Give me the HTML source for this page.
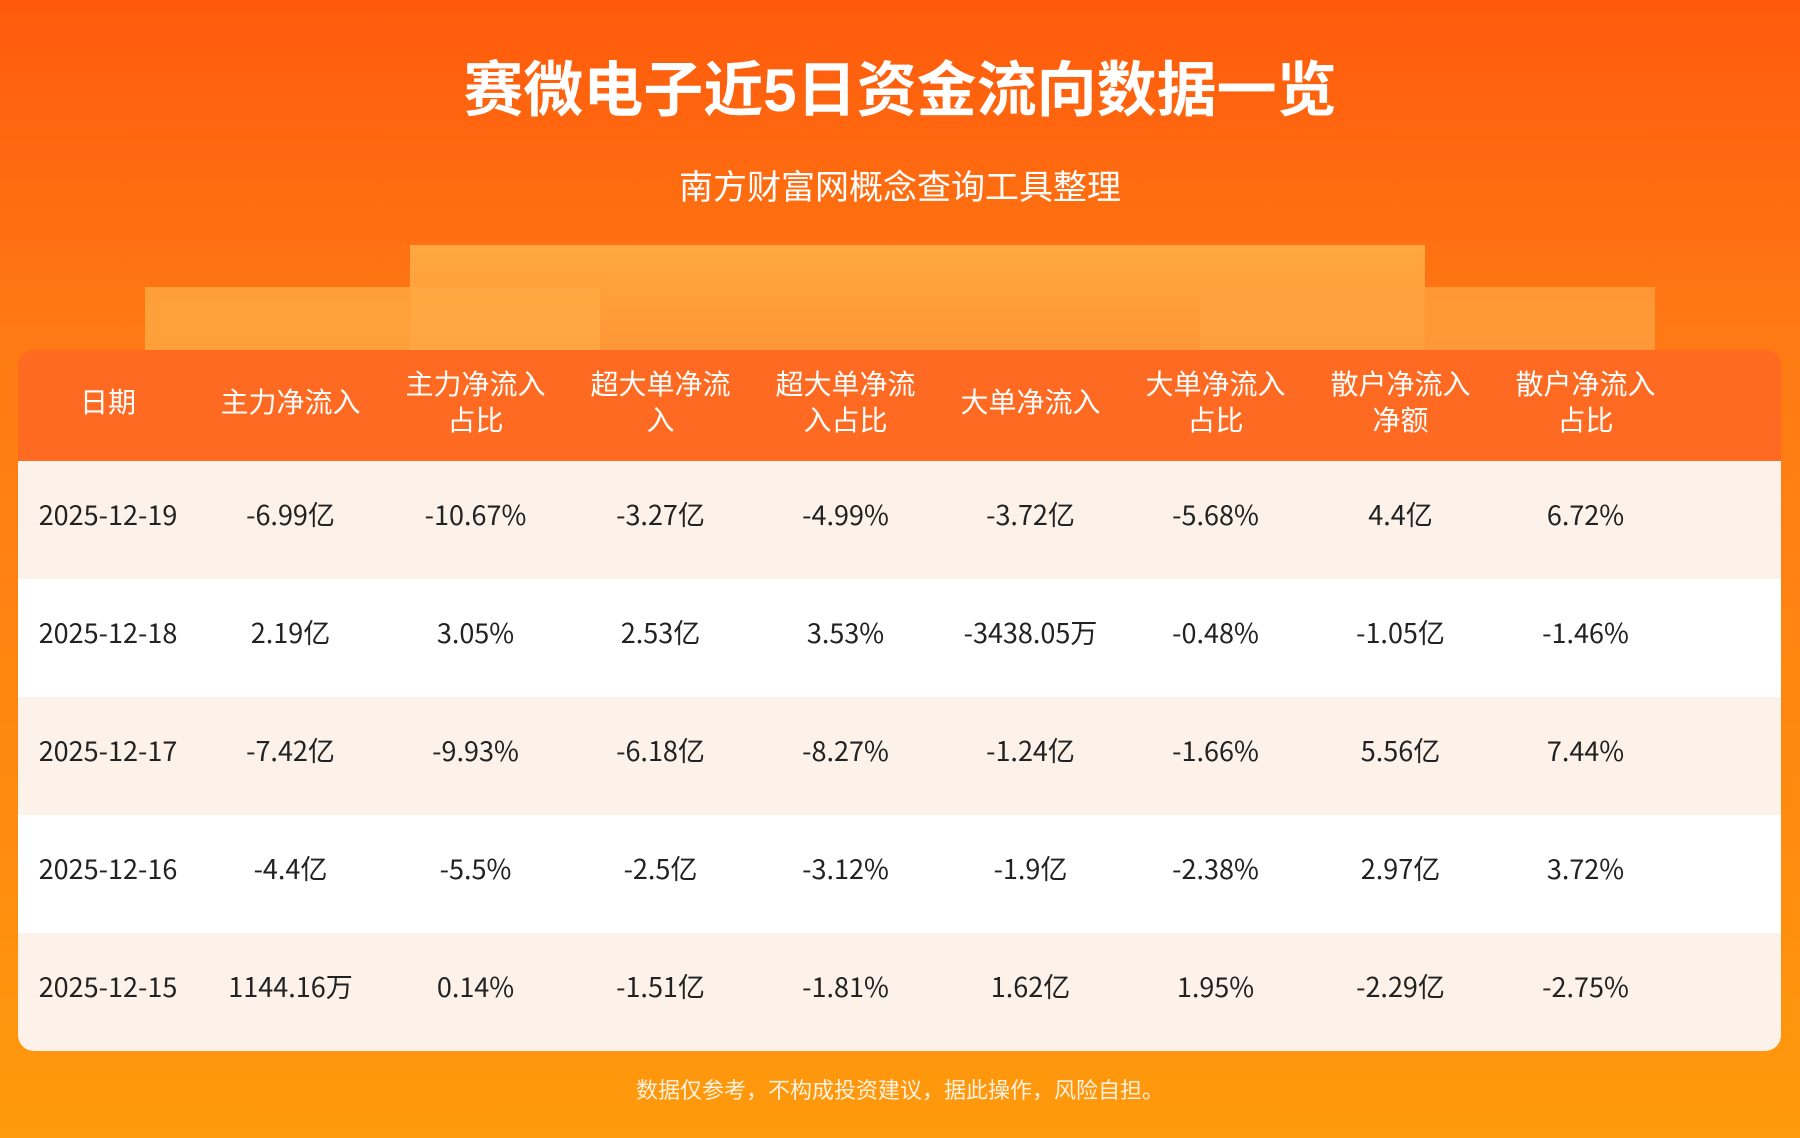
<!DOCTYPE html>
<html><head><meta charset="utf-8"><style>
body{margin:0;width:1800px;height:1138px;overflow:hidden;font-family:"Liberation Sans","Noto Sans CJK SC",sans-serif;}
.bg{position:absolute;left:0;top:0;width:1800px;height:1138px;background:linear-gradient(180deg,#ff5a0c 0%,#ff7a14 30%,#ff8a10 70%,#ff9a0c 100%);}
.t{position:absolute;left:0;width:1800px;text-align:center;color:#fff;}
.box{position:absolute;}
table{position:absolute;left:18px;top:350px;width:1763px;border-collapse:collapse;border-radius:16px;overflow:hidden;table-layout:fixed;}
th{background:#ff6a22;color:#fff;font-weight:normal;font-size:28px;line-height:36px;height:101px;padding:0 0 10px 0;font-family:"Noto Sans CJK SC",sans-serif;}
td{font-size:27px;color:#222;text-align:center;height:106px;padding:0 0 12px 0;font-family:"Noto Sans CJK SC",sans-serif;line-height:40px;}
tr:nth-child(even) td{background:#fdf2e9;}
tr:nth-child(odd) td{background:#fff;}
</style></head><body>
<div class="bg"></div>
<div class="box" style="left:410px;top:245px;width:1015px;height:110px;background:linear-gradient(180deg,#ffb24a,#ff9a3a);opacity:.85"></div>
<div class="box" style="left:145px;top:287px;width:455px;height:70px;background:#ffaa45;opacity:.8"></div>
<div class="box" style="left:1200px;top:287px;width:455px;height:70px;background:#ffa040;opacity:.8"></div>
<div class="t" style="top:54px;font-size:60px;font-weight:bold;line-height:74px;">赛微电子近5日资金流向数据一览</div>
<div class="t" style="top:166px;font-size:34px;line-height:44px;">南方财富网概念查询工具整理</div>
<table>
<colgroup><col style="width:180px"><col style="width:185px"><col style="width:185px"><col style="width:185px"><col style="width:185px"><col style="width:185px"><col style="width:185px"><col style="width:185px"><col style="width:185px"><col></colgroup>
<tr><th>日期</th><th>主力净流入</th><th>主力净流入<br>占比</th><th>超大单净流<br>入</th><th>超大单净流<br>入占比</th><th>大单净流入</th><th>大单净流入<br>占比</th><th>散户净流入<br>净额</th><th>散户净流入<br>占比</th><th></th></tr>
<tr><td>2025-12-19</td><td>-6.99亿</td><td>-10.67%</td><td>-3.27亿</td><td>-4.99%</td><td>-3.72亿</td><td>-5.68%</td><td>4.4亿</td><td>6.72%</td><td></td></tr>
<tr><td>2025-12-18</td><td>2.19亿</td><td>3.05%</td><td>2.53亿</td><td>3.53%</td><td>-3438.05万</td><td>-0.48%</td><td>-1.05亿</td><td>-1.46%</td><td></td></tr>
<tr><td>2025-12-17</td><td>-7.42亿</td><td>-9.93%</td><td>-6.18亿</td><td>-8.27%</td><td>-1.24亿</td><td>-1.66%</td><td>5.56亿</td><td>7.44%</td><td></td></tr>
<tr><td>2025-12-16</td><td>-4.4亿</td><td>-5.5%</td><td>-2.5亿</td><td>-3.12%</td><td>-1.9亿</td><td>-2.38%</td><td>2.97亿</td><td>3.72%</td><td></td></tr>
<tr><td>2025-12-15</td><td>1144.16万</td><td>0.14%</td><td>-1.51亿</td><td>-1.81%</td><td>1.62亿</td><td>1.95%</td><td>-2.29亿</td><td>-2.75%</td><td></td></tr>
</table>
<div class="t" style="top:1076px;font-size:22px;line-height:30px;color:#fff2e0;">数据仅参考，不构成投资建议，据此操作，风险自担。</div>
</body></html>
